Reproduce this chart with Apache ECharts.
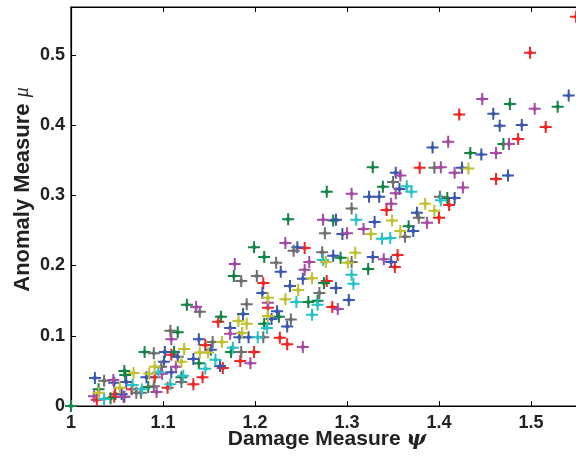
<!DOCTYPE html>
<html>
<head>
<meta charset="utf-8">
<script src="https://cdn.jsdelivr.net/npm/echarts@6/dist/echarts.min.js"></script>
<style>html,body{margin:0;padding:0;background:#fff}#c{width:576px;height:456px}</style>
</head>
<body>
<div id="c"></div>
<script>
// Series data: [damage measure psi, anomaly measure mu]
const redPts = [[1.549,0.554],[1.499,0.503],[1.422,0.415],[1.516,0.397],[1.486,0.380],[1.379,0.339],[1.462,0.323],[1.411,0.286],[1.400,0.268],[1.343,0.279],[1.355,0.215],[1.352,0.198],[1.254,0.225],[1.278,0.178],[1.209,0.175],[1.284,0.141],[1.214,0.140],[1.227,0.097],[1.235,0.088],[1.160,0.120],[1.146,0.087],[1.109,0.073],[1.165,0.054],[1.143,0.041],[1.133,0.031],[1.105,0.026],[1.091,0.041],[1.066,0.024],[1.048,0.017],[1.047,0.013],[1.028,0.009],[1.184,0.064],[1.199,0.077]];
const greenPts = [[1.477,0.430],[1.529,0.426],[1.470,0.373],[1.434,0.360],[1.409,0.296],[1.328,0.340],[1.339,0.312],[1.278,0.305],[1.285,0.264],[1.367,0.256],[1.293,0.211],[1.323,0.195],[1.236,0.266],[1.199,0.226],[1.210,0.212],[1.177,0.185],[1.275,0.175],[1.258,0.148],[1.268,0.150],[1.226,0.127],[1.210,0.117],[1.163,0.127],[1.126,0.144],[1.116,0.105],[1.080,0.077],[1.112,0.077],[1.139,0.061],[1.120,0.041],[1.084,0.027],[1.058,0.050],[1.059,0.044],[1.043,0.011],[1.030,0.024],[1.000,0.000],[1.174,0.077]];
const bluePts = [[1.541,0.442],[1.459,0.416],[1.466,0.399],[1.490,0.400],[1.393,0.368],[1.446,0.358],[1.425,0.339],[1.475,0.328],[1.417,0.296],[1.353,0.332],[1.357,0.309],[1.324,0.298],[1.335,0.298],[1.376,0.275],[1.372,0.249],[1.288,0.265],[1.330,0.262],[1.295,0.245],[1.285,0.214],[1.328,0.212],[1.348,0.205],[1.246,0.226],[1.228,0.191],[1.252,0.181],[1.288,0.168],[1.238,0.171],[1.208,0.161],[1.302,0.151],[1.224,0.135],[1.218,0.124],[1.235,0.113],[1.187,0.131],[1.173,0.111],[1.193,0.098],[1.183,0.098],[1.139,0.095],[1.152,0.080],[1.102,0.077],[1.116,0.070],[1.101,0.063],[1.109,0.048],[1.162,0.057],[1.082,0.041],[1.060,0.034],[1.047,0.033],[1.026,0.040],[1.058,0.013],[1.055,0.017],[1.133,0.067]];
const grayPts = [[1.395,0.339],[1.401,0.298],[1.350,0.319],[1.305,0.281],[1.378,0.268],[1.363,0.241],[1.276,0.246],[1.273,0.219],[1.305,0.205],[1.242,0.221],[1.223,0.204],[1.202,0.185],[1.185,0.178],[1.270,0.161],[1.191,0.145],[1.239,0.123],[1.209,0.098],[1.154,0.091],[1.140,0.134],[1.108,0.107],[1.090,0.075],[1.098,0.056],[1.120,0.034],[1.090,0.028],[1.071,0.019],[1.076,0.019],[1.036,0.036],[1.185,0.077]];
const magentaPts = [[1.447,0.437],[1.504,0.423],[1.410,0.376],[1.476,0.373],[1.462,0.360],[1.402,0.340],[1.417,0.332],[1.426,0.311],[1.358,0.328],[1.353,0.303],[1.305,0.302],[1.348,0.288],[1.387,0.261],[1.274,0.265],[1.318,0.252],[1.300,0.246],[1.340,0.209],[1.233,0.232],[1.259,0.205],[1.178,0.202],[1.254,0.194],[1.214,0.147],[1.290,0.138],[1.252,0.084],[1.173,0.103],[1.136,0.141],[1.109,0.095],[1.114,0.056],[1.099,0.046],[1.093,0.020],[1.046,0.037],[1.057,0.013],[1.025,0.014],[1.195,0.061]];
const cyanPts = [[1.365,0.313],[1.370,0.305],[1.402,0.293],[1.310,0.265],[1.338,0.238],[1.347,0.239],[1.274,0.208],[1.305,0.187],[1.307,0.174],[1.245,0.148],[1.268,0.144],[1.262,0.130],[1.203,0.098],[1.213,0.111],[1.157,0.066],[1.146,0.053],[1.122,0.043],[1.108,0.031],[1.095,0.048],[1.077,0.024],[1.067,0.030],[1.036,0.010],[1.176,0.083]];
const yellowPts = [[1.432,0.338],[1.385,0.288],[1.395,0.278],[1.349,0.264],[1.358,0.249],[1.326,0.245],[1.277,0.205],[1.309,0.218],[1.301,0.204],[1.262,0.182],[1.247,0.165],[1.233,0.152],[1.214,0.154],[1.214,0.128],[1.182,0.121],[1.191,0.117],[1.186,0.104],[1.164,0.091],[1.123,0.081],[1.120,0.063],[1.140,0.076],[1.149,0.076],[1.091,0.056],[1.085,0.046],[1.068,0.047],[1.053,0.026],[1.030,0.019]];

const xTicks = [1, 1.1, 1.2, 1.3, 1.4, 1.5];
const yTicks = [0, 0.1, 0.2, 0.3, 0.4, 0.5];

const seriesDefs = [
  ['red', redPts, '#f22424'],
  ['green', greenPts, '#128544'],
  ['blue', bluePts, '#3a58b2'],
  ['gray', grayPts, '#6f6f6f'],
  ['magenta', magentaPts, '#a44ca4'],
  ['cyan', cyanPts, '#25c3c6'],
  ['yellow', yellowPts, '#c0c030']
];

const plusPath = 'path://M5,0 H7 V4 L8,5 H12 V7 H8 L7,8 V12 H5 V8 L4,7 H0 V5 H4 L5,4 Z';
const FONT = '"Liberation Sans", Arial, Helvetica, sans-serif';

const chart = echarts.init(document.getElementById('c'), null, {renderer: 'canvas'});
function axisLine() { return {show: true, onZero: false, lineStyle: {color: '#000', width: 1.2}}; }
chart.setOption({
  animation: false,
  backgroundColor: '#fff',
  grid: {left: 71, top: 7, width: 506, height: 399, containLabel: false, outerBoundsMode: 'none',
    show: true, borderColor: '#000', borderWidth: 1.2, backgroundColor: 'transparent'},
  xAxis: [{
    type: 'value', min: 1, max: 1.55, interval: 0.1, position: 'bottom',
    axisLine: axisLine(),
    axisTick: {inside: true, length: 5, lineStyle: {color: '#000'}},
    splitLine: {show: false},
    axisLabel: {
      margin: 8, color: '#222', fontWeight: 'bold', fontSize: 18, fontFamily: FONT,
      showMaxLabel: false,
      formatter: v => { const t = xTicks.find(k => Math.abs(k - v) < 1e-6); return t === undefined ? '' : String(t); }
    },
    name: 'Damage Measure {psi|ψ}', nameLocation: 'middle', nameGap: 23, nameMoveOverlap: false,
    nameTextStyle: {color: '#222', fontWeight: 'bold', fontSize: 21, fontFamily: FONT,
      padding: [0, 0, 0, 6],
      rich: {psi: {fontWeight: 'bold', fontStyle: 'italic', fontSize: 21, fontFamily: '"DejaVu Serif", serif', color: '#222'}}}
  }, {
    type: 'value', min: 1, max: 1.55, interval: 0.1, position: 'top',
    axisLine: axisLine(),
    axisTick: {inside: true, length: 5, lineStyle: {color: '#000'}},
    axisLabel: {show: false}, splitLine: {show: false}
  }],
  yAxis: [{
    type: 'value', min: 0, max: 0.568, interval: 0.1,
    axisLine: axisLine(),
    axisTick: {inside: true, length: 5, lineStyle: {color: '#000'}},
    splitLine: {show: false},
    axisLabel: {
      margin: 6, color: '#222', fontWeight: 'bold', fontSize: 18, fontFamily: FONT,
      showMaxLabel: false,
      formatter: v => { const t = yTicks.find(k => Math.abs(k - v) < 1e-6); return t === undefined ? '' : String(t); }
    },
    name: 'Anomaly Measure {mu|μ}', nameLocation: 'middle', nameGap: 37, nameRotate: 90, nameMoveOverlap: false,
    nameTextStyle: {color: '#222', fontWeight: 'bold', fontSize: 22, fontFamily: FONT,
      padding: [0, 0, 0, 34],
      rich: {mu: {fontWeight: 'normal', fontStyle: 'italic', fontSize: 20, fontFamily: '"Liberation Serif", serif', color: '#222'}}}
  }],
  series: seriesDefs.map(([name, pts, color]) => ({
    name: name, type: 'scatter', data: pts,
    symbol: plusPath, symbolSize: 12, symbolKeepAspect: true,
    itemStyle: {color: color, opacity: 1},
    clip: true
  }))
});
</script>
</body>
</html>
